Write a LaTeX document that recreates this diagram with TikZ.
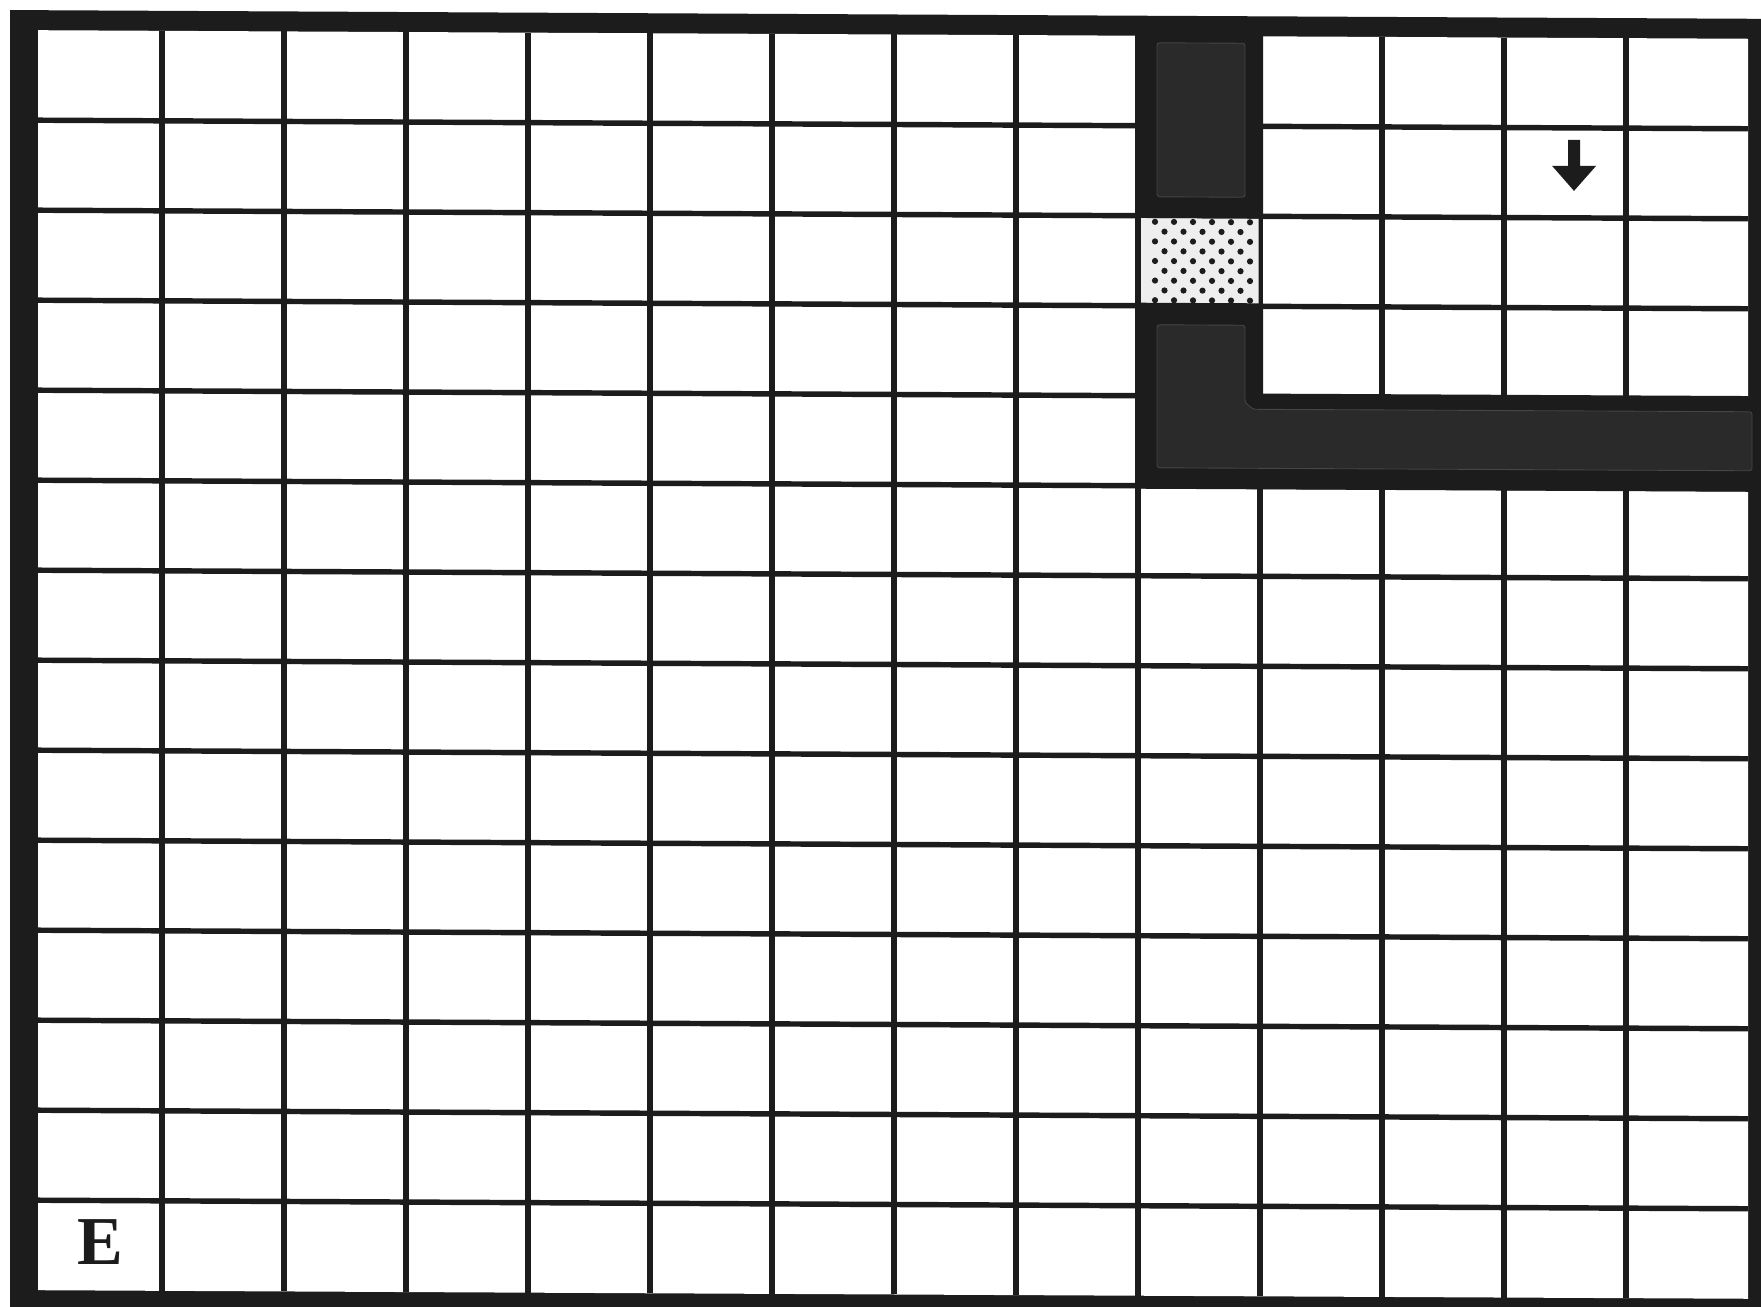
\documentclass[tikz,border=0pt]{standalone}
\usepackage{fontspec}
\newfontfamily\labelfont{Liberation Serif}
\definecolor{ink}{RGB}{28,28,28}
\definecolor{innerwall}{RGB}{42,42,42}
\definecolor{inneredge}{RGB}{70,70,70}
\definecolor{doorbg}{RGB}{238,238,238}
\begin{document}
\begin{tikzpicture}[x=0.02cm,y=-0.02cm,
  gridline/.style={draw=ink,line width=3.1pt},
  wall/.style={fill=ink},
  wallcore/.style={fill=innerwall,draw=inneredge,line width=0.5pt,rounded corners=1.5pt}]
\useasboundingbox (0,0) rectangle (1761,1306);
\clip (0,0) rectangle (1761,1306);
\fill[white] (0,0) rectangle (1761,1306);
\begin{scope}[yslant=-0.005]
  % outer frame
  \fill[ink] (10,10) rectangle (1820,1360);
  \fill[white] (38,30) rectangle (1748,1290);
  % grid
  \foreach \i in {1,...,13}
    \draw[gridline] ({40+122*\i},30) -- ({40+122*\i},1290);
  \foreach \j in {1,...,13}
    \draw[gridline] (38,{30+90*\j}) -- (1748,{30+90*\j});
  % upper wall block
  \fill[wall] (1135,28) rectangle (1263,212);
  \filldraw[wallcore] (1157,37) rectangle (1245,191);
  % door
  \fill[doorbg] (1141,212.5) rectangle (1258.5,297.5);
  \foreach \r in {0,...,8}{
    \pgfmathsetmacro{\off}{mod(\r,2)*9.5}
    \foreach \c in {0,...,5}{
      \pgfmathsetmacro{\xx}{1155+19*\c+\off}
      \ifdim\xx pt<1256pt
        \fill[ink] (\xx,{216+9.8*\r}) circle (3.1);
      \fi
    }
  }
  % lower wall (L shape)
  \fill[wall] (1135,297) -- (1263,297) -- (1263,388) -- (1820,388)
     -- (1820,483) -- (1135,483) -- cycle;
  \filldraw[wallcore] (1157,319) -- (1245,319) -- (1245,396) -- (1253,403)
     -- (1752,403) -- (1752,462) -- (1157,462) -- cycle;
  % arrow
  \fill[ink] (1568,132) -- (1580,132) -- (1580,158) -- (1596,158)
     -- (1574,183) -- (1552,158) -- (1568,158) -- cycle;
  % label
  \node[font=\labelfont\bfseries\fontsize{39}{42}\selectfont,text=ink,inner sep=0pt] (E) at (100.5,1241.5) {E};
\end{scope}
\end{tikzpicture}
\end{document}
